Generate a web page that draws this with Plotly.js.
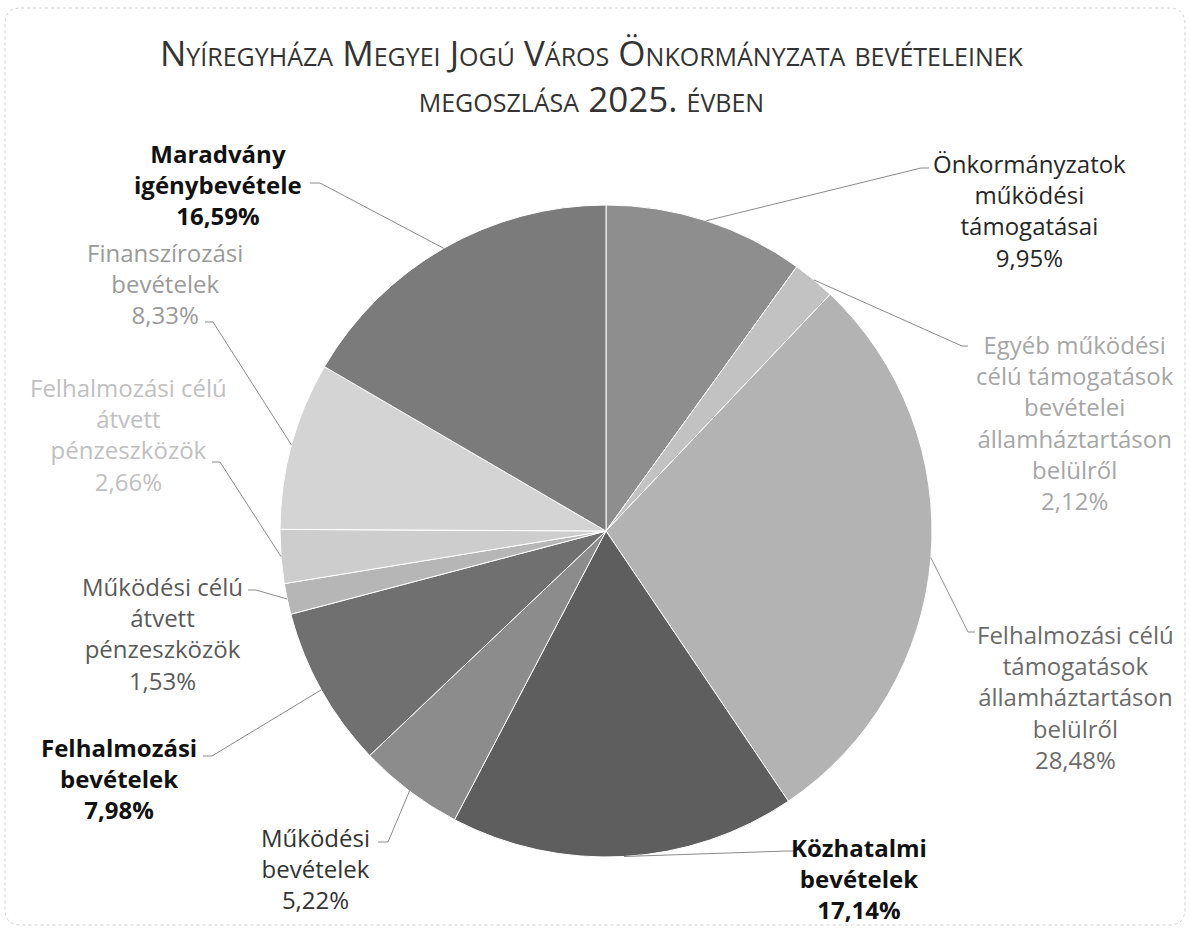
<!DOCTYPE html>
<html>
<head>
<meta charset="utf-8">
<script src="https://cdn.plot.ly/plotly-3.0.1.min.js"></script>
<style>html,body{margin:0;padding:0;background:#fff;}#chart{width:1190px;height:931px;}</style>
</head>
<body>
<div id="chart"></div>
<script>
// ---- data ----
const categories = [
  'Önkormányzatok működési támogatásai',
  'Egyéb működési célú támogatások bevételei államháztartáson belülről',
  'Felhalmozási célú támogatások államháztartáson belülről',
  'Közhatalmi bevételek',
  'Működési bevételek',
  'Felhalmozási bevételek',
  'Működési célú átvett pénzeszközök',
  'Felhalmozási célú átvett pénzeszközök',
  'Finanszírozási bevételek',
  'Maradvány igénybevétele'
];
const shares = [9.95, 2.12, 28.48, 17.14, 5.22, 7.98, 1.53, 2.66, 8.33, 16.59];
const labelLines = [
  'Önkormányzatok<br>működési<br>támogatásai',
  'Egyéb működési<br>célú támogatások<br>bevételei<br>államháztartáson<br>belülről',
  'Felhalmozási célú<br>támogatások<br>államháztartáson<br>belülről',
  'Közhatalmi<br>bevételek',
  'Működési<br>bevételek',
  'Felhalmozási<br>bevételek',
  'Működési célú<br>átvett<br>pénzeszközök',
  'Felhalmozási célú<br>átvett<br>pénzeszközök',
  'Finanszírozási<br>bevételek',
  'Maradvány<br>igénybevétele'
];
const titleText = 'Nyíregyháza Megyei Jogú Város Önkormányzata bevételeinek<br>megoszlása 2025. évben';

// ---- styles / layout positions ----
const W = 1190, H = 931;
const cx = 606, cy = 531, R = 326;
const sliceColors = ['#8e8e8e','#c2c2c2','#b3b3b3','#5e5e5e','#8c8c8c','#707070','#b6b6b6','#cdcdcd','#d4d4d4','#7b7b7b'];
const textColors  = ['#262626','#a6a6a6','#6b6b6b','#111111','#333333','#111111','#5a5a5a','#c0c0c0','#9a9a9a','#111111'];
const textBold    = [false,false,false,true,false,true,false,false,false,true];
// label block centre (px) and leader start/elbow (px)
const labelPos = [[1029,211],[1075,422],[1075,697],[859,878],[315,868],[119,778],[162,633],[128,435],[165,283],[218,185]];
const leaderStart = [[929,168],[968,346],[975,632],[795,851],[378,842],[203,756],[248,590],[212,462],[205,322],[310,183]];
const leaderElbow = [[921,168],[962,346],[968,632],[787,851],[388,842],[212,756],[256,590],[220,462],[213,322],[320,183]];

const px = x => x / W;
const py = y => 1 - y / H;

const total = shares.reduce((a,b)=>a+b,0);
let cum = 0;
const annotations = [];
const shapes = [];
shares.forEach((v,i)=>{
  const mid = (cum + v/2) / total * 2*Math.PI;
  cum += v;
  const ex = cx + R*Math.sin(mid), ey = cy - R*Math.cos(mid);
  const pct = v.toFixed(2).replace('.', ',') + '%';
  let txt = labelLines[i] + '<br>' + pct;
  if (textBold[i]) txt = '<b>' + txt + '</b>';
  annotations.push({
    xref:'paper', yref:'paper', x:px(labelPos[i][0]), y:py(labelPos[i][1]),
    xanchor:'center', yanchor:'middle', showarrow:false, align:'center',
    text: txt,
    font:{family:'Open Sans, sans-serif', size:24, color:textColors[i]}
  });
  const s = leaderStart[i], e = leaderElbow[i];
  shapes.push({
    type:'path', xref:'paper', yref:'paper',
    path:`M ${px(s[0])} ${py(s[1])} L ${px(e[0])} ${py(e[1])} L ${px(ex)} ${py(ey)}`,
    line:{color:'#8a8a8a', width:1}
  });
});

// chart border (rounded rectangle)
const bl=5, bt=8, br=1185, bb=925, rr=16;
shapes.push({
  type:'path', xref:'paper', yref:'paper',
  path:`M ${px(bl+rr)} ${py(bt)} L ${px(br-rr)} ${py(bt)} Q ${px(br)} ${py(bt)} ${px(br)} ${py(bt+rr)} L ${px(br)} ${py(bb-rr)} Q ${px(br)} ${py(bb)} ${px(br-rr)} ${py(bb)} L ${px(bl+rr)} ${py(bb)} Q ${px(bl)} ${py(bb)} ${px(bl)} ${py(bb-rr)} L ${px(bl)} ${py(bt+rr)} Q ${px(bl)} ${py(bt)} ${px(bl+rr)} ${py(bt)} Z`,
  line:{color:'#d0d0d0', width:1, dash:'dot'}
});

const trace = {
  type:'pie', labels:categories, values:shares, sort:false,
  direction:'clockwise', rotation:0,
  marker:{colors:sliceColors, line:{color:'#ffffff', width:1}},
  textinfo:'none', textposition:'none', hoverinfo:'label+percent',
  domain:{x:[(cx-R)/W, (cx+R)/W], y:[(H-cy-R)/H, (H-cy+R)/H]},
  showlegend:false
};

const layout = {
  width:W, height:H,
  margin:{l:0,r:0,t:0,b:0},
  paper_bgcolor:'#ffffff',
  title:{text:titleText, x:0.497, xanchor:'center', y:py(66), yanchor:'middle', yref:'container',
         font:{family:'Open Sans, sans-serif', size:35, color:'#333333', variant:'small-caps'}},
  annotations:annotations,
  shapes:shapes,
  showlegend:false
};

Plotly.newPlot('chart', [trace], layout, {displayModeBar:false, staticPlot:true});
</script>
</body>
</html>
